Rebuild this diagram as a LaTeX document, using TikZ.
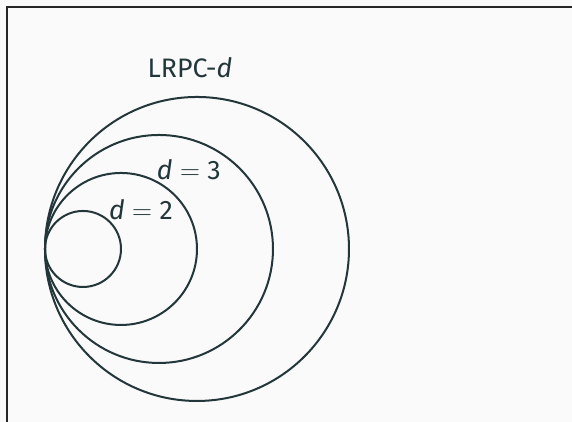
\documentclass[tikz,border=0pt]{standalone}
\usepackage{fontspec}
\setmainfont{Fira Sans}
\usepackage{tikz}
\definecolor{mDark}{HTML}{23373B}
\definecolor{mBack}{HTML}{FAFAFA}
\tikzset{
	ring/.style={draw=mDark, line width=1.5pt},
	lbl/.style={text=mDark, font=\fontsize{20}{24}\selectfont, inner sep=0pt}
}

\begin{document}
\begin{tikzpicture}[x=1cm, y=1cm]
				\fill[mBack] (0,0) rectangle (15.053,11.105);
				\useasboundingbox (0,0) rectangle (15.053,11.105);
				\draw[line width=1.5pt, black!85] (0.184,0) -- (0.184,10.921) -- (15.053,10.921);
				\coordinate (tp) at (1.184,4.553);
				\foreach \r in {1,2,3,4} {
					\draw[ring] (tp) ++(\r,0) circle (\r);
				}
				\node[lbl] (outer) at (5.0,9.316) {LRPC-\textit{d}};
				\node[lbl] (three) at (4.97,6.63) {\textit{d}\;$=$\;3};
				\node[lbl] (two) at (3.71,5.6) {\textit{d}\;$=$\;2};
			\end{tikzpicture}
\end{document}
